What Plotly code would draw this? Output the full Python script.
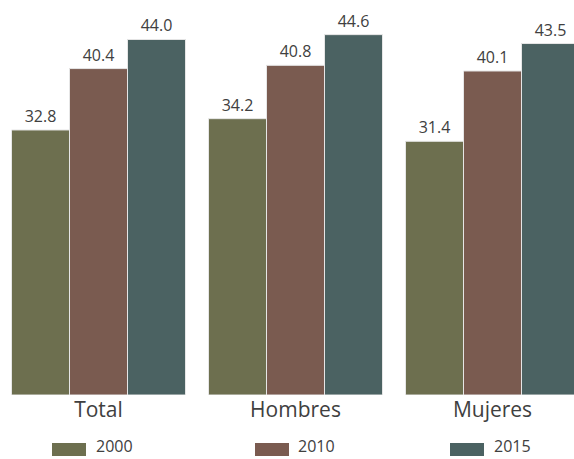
import plotly.graph_objects as go

categories = ["Total", "Hombres", "Mujeres"]
years = ["2000", "2010", "2015"]
values_2000 = [32.8, 34.2, 31.4]
values_2010 = [40.4, 40.8, 40.1]
values_2015 = [44.0, 44.6, 43.5]
series = [values_2000, values_2010, values_2015]
colors = ["#6d6f4f", "#7a5b50", "#4b6262"]

W, H = 574, 459
plot_h = 395  # baseline pixel row
px_per_unit = 8.08
group_pitch = 197.0

fig = go.Figure()
for yr, vals, col in zip(years, series, colors):
    fig.add_trace(go.Bar(
        x=categories, y=vals, name=yr,
        marker=dict(color=col, line=dict(color="#e6e6e6", width=1)),
        text=[f"{v:.1f}" for v in vals], textposition="outside",
        textfont=dict(family="Open Sans", size=16, color="#404040"),
        constraintext="none", cliponaxis=False, showlegend=False,
        hoverinfo="skip",
    ))

# custom legend (decoration)
def px_x(p):
    return p / W

def px_y(p):
    return (plot_h - p) / plot_h

legend_items = [(52, 95), (255, 297), (450, 493)]
shapes = []
annotations = []
for (sx, tx), yr, col in zip(legend_items, years, colors):
    shapes.append(dict(type="rect", xref="paper", yref="paper",
                       x0=px_x(sx), x1=px_x(sx + 34), y0=px_y(456), y1=px_y(443),
                       fillcolor=col, line=dict(width=0)))
    annotations.append(dict(text=yr, xref="paper", yref="paper", x=px_x(tx), y=px_y(458),
                            xanchor="left", yanchor="bottom", showarrow=False, borderpad=0,
                            font=dict(family="Open Sans", size=16, color="#404040")))

fig.update_layout(
    width=W, height=H,
    margin=dict(l=0, r=0, t=0, b=H - plot_h),
    paper_bgcolor="white", plot_bgcolor="white",
    barmode="group", bargap=23 / 197, bargroupgap=0,
    xaxis=dict(range=[-0.5, -0.5 + W / group_pitch], showgrid=False, zeroline=False,
               showline=False, ticks="", tickfont=dict(family="Open Sans", size=21, color="#404040")),
    yaxis=dict(range=[0, plot_h / px_per_unit], visible=False),
    shapes=shapes, annotations=annotations,
)

fig.write_html("out.html", config={"displayModeBar": False},
               post_script="document.body.style.margin='0';document.body.style.overflow='hidden';")
